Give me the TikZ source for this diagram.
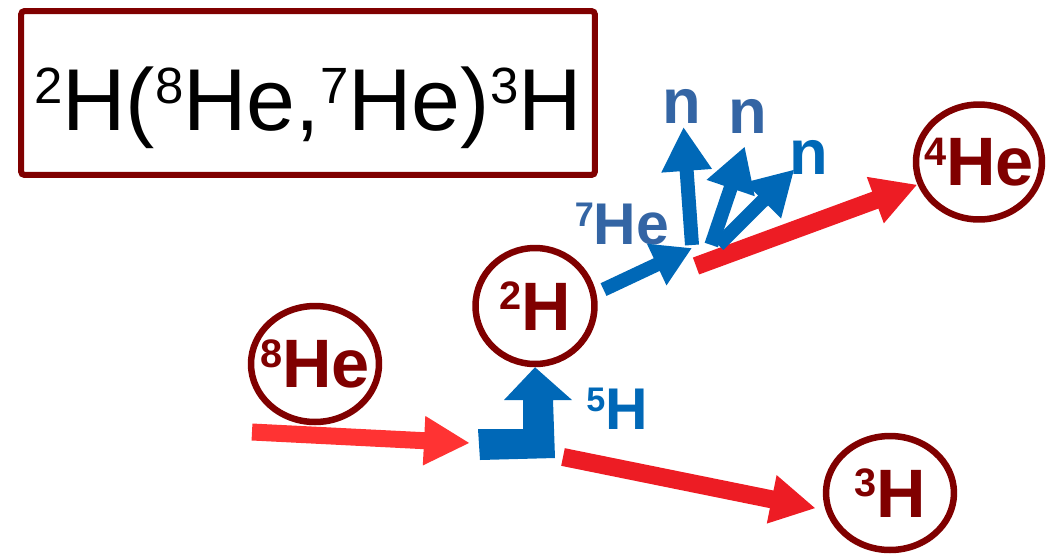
\documentclass[tikz,border=0pt]{standalone}
\usepackage{fontspec}
\setmainfont{Liberation Sans}
\usepackage{graphicx}
\usetikzlibrary{shapes.geometric,arrows.meta,calc}
\definecolor{nucred}{RGB}{128,0,0}
\definecolor{beamred}{RGB}{255,51,51}
\definecolor{ejectred}{RGB}{237,28,36}
\definecolor{flowblue}{RGB}{0,104,183}
\definecolor{labelblue}{RGB}{52,101,164}
\newcommand{\nuc}[2]{\raisebox{0.3em}{\scalebox{0.58}{#1}}#2}

\begin{document}
\begin{tikzpicture}[
            x=0.02cm, y=-0.02cm,
            nucleus/.style={ellipse, draw=nucred, line width=0.13cm, inner sep=-0.35cm,
                            minimum width=2.56cm, minimum height=2.32cm,
                            text=nucred, font=\fontsize{39}{44}\selectfont\bfseries},
            titlebox/.style={rectangle, rounded corners=2pt, draw=nucred, line width=0.12cm,
                             minimum width=11.48cm, minimum height=3.28cm,
                             text height=1.85cm, text depth=0.37cm,
                             font=\fontsize{50}{60}\selectfont},
            bluelabel/.style={text=labelblue, inner sep=2pt, font=\fontsize{33.5}{40}\selectfont\bfseries},
            nlabel/.style={text=labelblue, inner sep=2pt, font=\fontsize{36}{42}\selectfont\bfseries},
            beam/.style={line width=0.34cm, draw=beamred, -{Triangle[length=0.92cm,width=0.92cm]}},
            eject/.style={line width=0.36cm, draw=ejectred, -{Triangle[length=0.9cm,width=0.92cm]}},
            bluearrow/.style={line width=0.28cm, draw=flowblue, -{Triangle[length=0.78cm,width=0.86cm]}},
            neutron/.style={line width=0.28cm, draw=flowblue, -{Triangle[length=0.88cm,width=0.95cm]}}
        ]

        \useasboundingbox (0,0) rectangle (1056,556);

        \node[titlebox] (title) at (308,93) {\nuc{2}{H}(\nuc{8}{He},\nuc{7}{He})\nuc{3}{H}};

        \node[nucleus] (he8) at (315,364) {\nuc{8}{He}};
        \node[nucleus, minimum width=2.38cm] (h2) at (535,306) {\nuc{2}{H}};
        \node[nucleus, minimum width=2.52cm, minimum height=2.3cm] (he4) at (979,162) {\nuc{4}{He}};
        \node[nucleus, minimum height=2.28cm] (h3) at (890,493) {\nuc{3}{H}};

        \node[bluelabel] (lbl7) at (622,224) {\nuc{7}{He}};
        \node[bluelabel, text=flowblue] (lbl5) at (617,409) {\nuc{5}{H}};
        \node[nlabel] (n1) at (682,106) {n};
        \node[nlabel] (n2) at (748,116) {n};
        \node[nlabel, text=flowblue] (n3) at (809,157) {n};

        \coordinate (in8) at (252,432);
        \coordinate (vtx) at (470,443);
        \coordinate (out3) at (563,457);
        \coordinate (he7) at (692,248);
        \coordinate (nsrc) at (692,245);
        \coordinate (rec) at (696,266);

        \draw[beam] (in8) -- (vtx);
        \draw[eject, shorten >=0.2cm] (out3) -- (h3.195);
        \draw[eject] (rec) -- (he4);

        \fill[flowblue] (478,429) -- (523,429) -- (523,400) -- (504,400) -- (h2.south)
            -- (572,400) -- (553,400) -- (555,458) -- (480,460) -- cycle;

        \draw[bluearrow, shorten <=0.16cm] (h2.12) -- (he7);
        \draw[neutron] (nsrc) -- (n1);
        \draw[neutron, shorten >=0.2cm] ([xshift=11]nsrc) -- (n2.south);
        \draw[neutron, shorten >=-0.24cm] ([xshift=15]nsrc) -- (n3.south west);

        \end{tikzpicture}
\end{document}
